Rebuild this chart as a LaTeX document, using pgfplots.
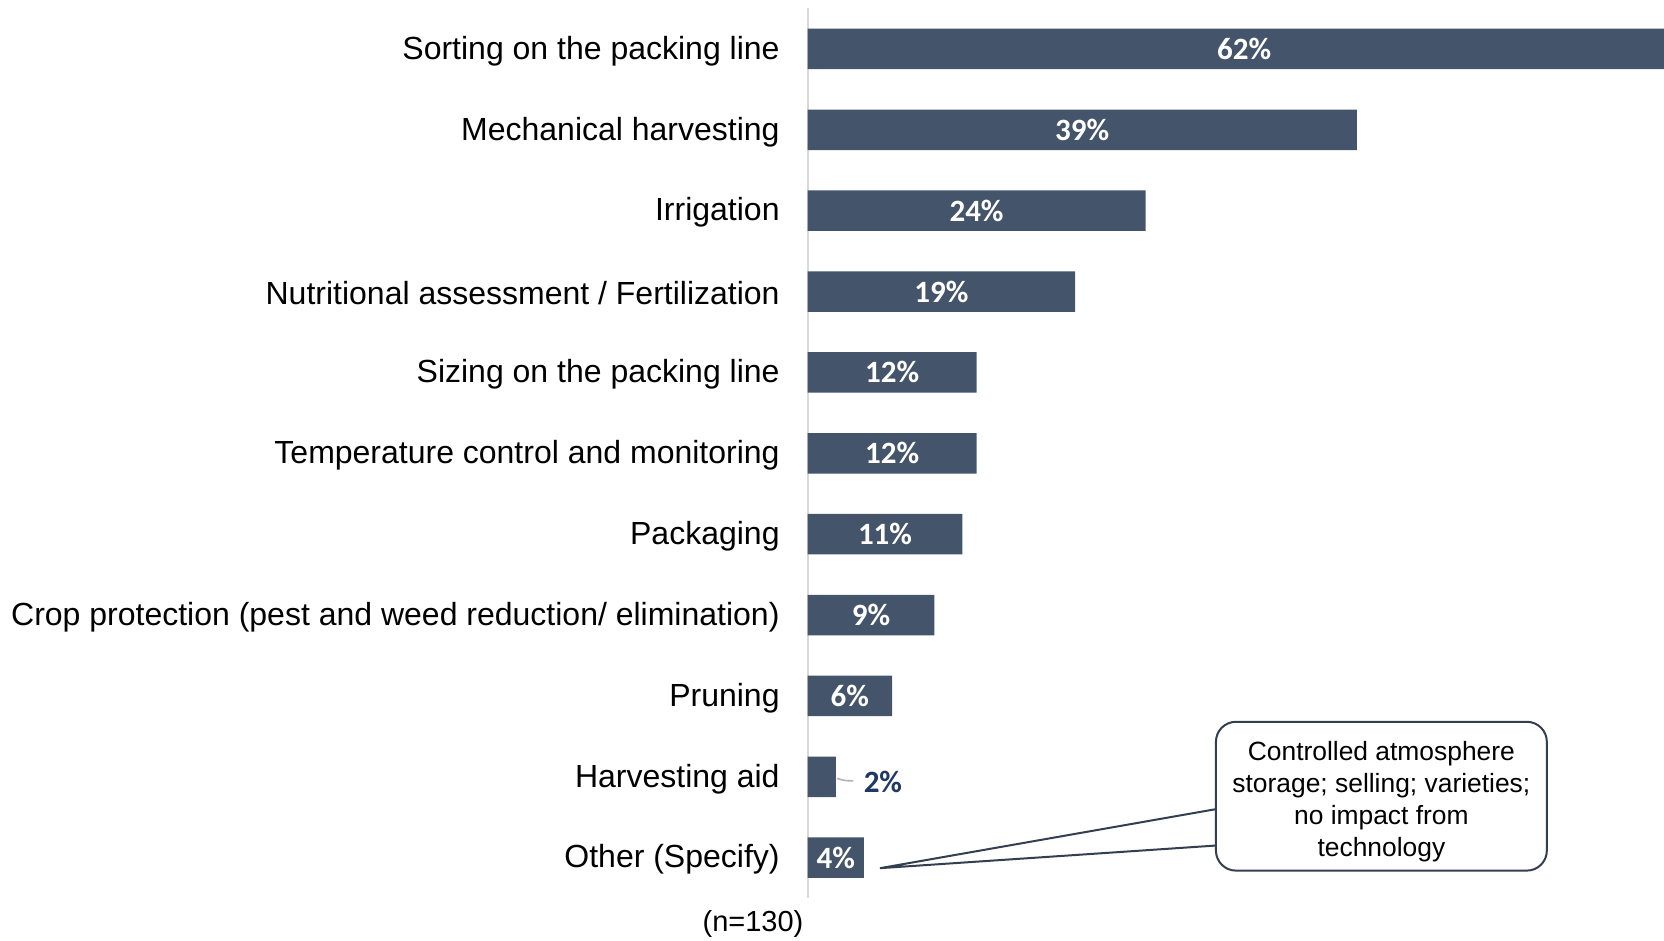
\documentclass[border=0pt]{standalone}
\usepackage{pgfplots}
\pgfplotsset{compat=1.18}
\usepackage{fontspec}
\setmainfont{Liberation Sans}
\newfontfamily\calibri{Carlito}
\definecolor{barc}{HTML}{44546A}
\definecolor{navy}{HTML}{1F3864}
\definecolor{callout}{HTML}{333F50}
\definecolor{axisgray}{HTML}{D9D9D9}

\begin{document}
\begin{tikzpicture}
\begin{axis}[
  scale only axis,
  width=428.2pt, height=444.8pt,
  xmin=0, xmax=60.82, ymin=-0.5, ymax=10.5,
  y dir=reverse,
  axis x line=none,
  axis y line=left,
  axis line style={-, draw=axisgray, line width=1pt},
  xtick=\empty,
  ytick={0,...,10},
  yticklabels={
    Sorting on the packing line,
    Mechanical harvesting,
    Irrigation,
    Nutritional assessment / Fertilization,
    Sizing on the packing line,
    Temperature control and monitoring,
    Packaging,
    Crop protection (pest and weed reduction/ elimination),
    Pruning,
    Harvesting aid,
    Other (Specify)},
  major tick length=0pt,
  yticklabel shift=13.8pt,
  yticklabel style={font=\fontsize{16}{19}\selectfont, inner sep=0pt, anchor=east, yshift=-1pt},
  /pgf/number format/assume math mode=true,
  clip=true,
]
% bars: value, row
\addplot[xbar, bar width=0.5, fill=barc, draw=none] table[x=v, y=i] {
i v
0 62
1 39
2 24
3 19
4 12
5 12
6 11
7 9
8 6
9 2
10 4
};
% white labels centred on the bars
\addplot[only marks, mark=none, point meta=explicit,
  nodes near coords={\pgfmathprintnumber{\pgfplotspointmeta}\%},
  nodes near coords style={anchor=center, text=white,
    font=\calibri\bfseries\fontsize{15.5}{18}\selectfont}]
  table[x=m, y=i, meta=v] {
i m v
0 31 62
1 19.5 39
2 12 24
3 9.5 19
4 6 12
5 6 12
6 5.5 11
7 4.5 9
8 3 6
10 2 4
};
% outside label for the small bar
\addplot[only marks, mark=none, point meta=explicit,
  nodes near coords={\pgfmathprintnumber{\pgfplotspointmeta}\%},
  nodes near coords style={anchor=center, text=navy,
    font=\calibri\bfseries\fontsize{15.5}{18}\selectfont}]
  table[x=m, y=i, meta=v] {
i m v
9.06 5.35 2
};
\draw[gray!60, line width=0.8pt] (axis cs:2.1,9.02) to[out=-20,in=180] (axis cs:3.25,9.05);
% callout
\draw[callout, fill=white, line width=1pt, line join=miter]
  (axis cs:29.0,9.40) -- (axis cs:5.14,10.13) -- (axis cs:29.0,9.85);
\draw[callout, fill=white, line width=1pt, rounded corners=10pt]
  (axis cs:29.0,8.32) rectangle (axis cs:52.5,10.16);
\node[align=center, font=\fontsize{13.2}{15.9}\selectfont, inner sep=0pt]
  at (axis cs:40.75,9.31) {Controlled atmosphere\\storage; selling; varieties;\\no impact from\\technology};
\end{axis}
\node[font=\fontsize{14.5}{17}\selectfont, inner sep=0pt]
  at ([xshift=-27.3pt, yshift=-13pt]current axis.south west) {(n=130)};
\pgfresetboundingbox
\path[use as bounding box]
  ([xshift=-403.8pt, yshift=-21pt]current axis.south west)
  rectangle ([yshift=4.25pt]current axis.north east);
\end{tikzpicture}
\end{document}
